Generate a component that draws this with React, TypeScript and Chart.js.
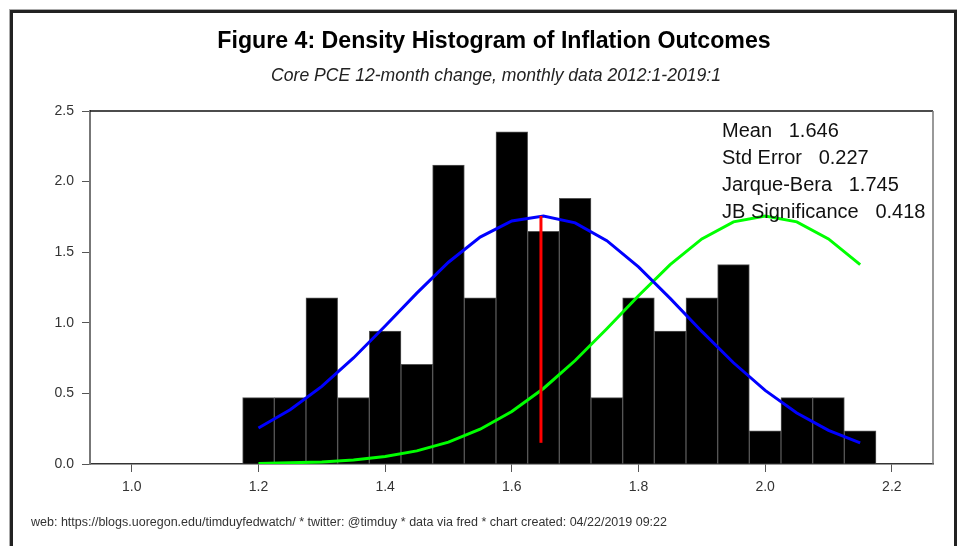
import React, { useEffect, useRef } from "react";
import { Chart, registerables } from "chart.js";

Chart.register(...registerables);

// Histogram bins (centres, width 0.05) and density heights
const BIN_CENTERS = [1.2, 1.25, 1.3, 1.35, 1.4, 1.45, 1.5, 1.55, 1.6, 1.65, 1.7, 1.75, 1.8, 1.85, 1.9, 1.95, 2.0, 2.05, 2.1, 2.15];
const DENSITY = [0.4706, 0.4706, 1.1765, 0.4706, 0.9412, 0.7059, 2.1176, 1.1765, 2.3529, 1.6471, 1.8824, 0.4706, 1.1765, 0.9412, 1.1765, 1.4118, 0.2353, 0.4706, 0.4706, 0.2353];

// Fitted normal (blue) and shifted normal (green), read at bin centres
const NORMAL_FIT = [0.255, 0.384, 0.55, 0.751, 0.977, 1.21, 1.429, 1.607, 1.721, 1.757, 1.708, 1.582, 1.396, 1.173, 0.939, 0.717, 0.521, 0.361, 0.238, 0.149];
const TARGET_FIT = [0.004, 0.008, 0.015, 0.029, 0.053, 0.093, 0.155, 0.246, 0.372, 0.535, 0.733, 0.958, 1.192, 1.412, 1.594, 1.715, 1.757, 1.715, 1.594, 1.412];

// Mean marker
const MEAN_LINE_X = [1.646, 1.646];
const MEAN_LINE_Y = [0.15, 1.757];

const X_TICKS = [1.0, 1.2, 1.4, 1.6, 1.8, 2.0, 2.2];
const Y_TICKS = [0, 0.5, 1.0, 1.5, 2.0, 2.5];

const STATS_LABELS = ["Mean", "Std Error", "Jarque-Bera", "JB Significance"];
const STATS_VALUES = ["1.646", "0.227", "1.745", "0.418"];

const TITLE = "Figure 4: Density Histogram of Inflation Outcomes";
const SUBTITLE = "Core PCE 12-month change, monthly data 2012:1-2019:1";
const FOOTER = "web: https://blogs.uoregon.edu/timduyfedwatch/ * twitter: @timduy * data via fred * chart created: 04/22/2019 09:22";

const W = 959;
const H = 546;
const FONT = '"Liberation Sans", Arial, sans-serif';

const boxPlugin = {
  id: "boxLines",
  afterDatasetsDraw(chart: any) {
    const { ctx, chartArea } = chart;
    ctx.save();
    ctx.lineWidth = 1.5;
    ctx.strokeStyle = "#111";
    ctx.beginPath();
    ctx.moveTo(chartArea.left, chartArea.top);
    ctx.lineTo(chartArea.right, chartArea.top);
    ctx.stroke();
    ctx.strokeStyle = "#777";
    ctx.beginPath();
    ctx.moveTo(chartArea.right, chartArea.top);
    ctx.lineTo(chartArea.right, chartArea.bottom);
    ctx.stroke();
    ctx.restore();
  },
};

export default function App() {
  const ref = useRef<HTMLCanvasElement | null>(null);

  useEffect(() => {
    if (!ref.current) return;
    const chart = new Chart(ref.current, {
      type: "bar",
      data: {
        datasets: [
          {
            type: "line",
            data: MEAN_LINE_X.map((x, i) => ({ x, y: MEAN_LINE_Y[i] })),
            borderColor: "#ff0000",
            borderWidth: 3,
            pointRadius: 0,
            tension: 0,
            order: 0,
          } as any,
          {
            type: "line",
            data: BIN_CENTERS.map((x, i) => ({ x, y: NORMAL_FIT[i] })),
            borderColor: "#0000ff",
            borderWidth: 3,
            pointRadius: 0,
            tension: 0,
            order: 1,
          },
          {
            type: "line",
            data: BIN_CENTERS.map((x, i) => ({ x, y: TARGET_FIT[i] })),
            borderColor: "#00ff00",
            borderWidth: 3,
            pointRadius: 0,
            tension: 0,
            order: 2,
          },
          {
            type: "bar",
            data: BIN_CENTERS.map((x, i) => ({ x, y: DENSITY[i] })),
            backgroundColor: "#000000",
            borderColor: "#555555",
            borderWidth: 1,
            barPercentage: 1,
            categoryPercentage: 1,
            order: 3,
          },
        ],
      },
      options: {
        animation: false,
        responsive: false,
        maintainAspectRatio: false,
        layout: { padding: { left: 0, right: W - 933, top: 111, bottom: 0 } },
        plugins: {
          legend: { display: false },
          tooltip: { enabled: false },
          title: { display: false },
        },
        scales: {
          x: {
            type: "linear",
            min: 0.934,
            max: 2.265,
            offset: false,
            afterFit: (s: any) => {
              s.height = H - 464;
            },
            afterBuildTicks: (s: any) => {
              s.ticks = X_TICKS.map((v) => ({ value: v }));
            },
            grid: { offset: false, drawOnChartArea: false, drawTicks: true, tickLength: 8, color: "#555", lineWidth: 1 },
            border: { display: true, color: "#333", width: 1.5 },
            ticks: {
              autoSkip: false,
              maxRotation: 0,
              padding: 7,
              color: "#333",
              font: { family: FONT, size: 14 },
              callback: (v: any) => Number(v).toFixed(1),
            },
          },
          y: {
            type: "linear",
            min: 0,
            max: 2.5,
            afterFit: (s: any) => {
              s.width = 90;
            },
            afterBuildTicks: (s: any) => {
              s.ticks = Y_TICKS.map((v) => ({ value: v }));
            },
            grid: { drawOnChartArea: false, drawTicks: true, tickLength: 8, color: "#555", lineWidth: 1 },
            border: { display: true, color: "#777", width: 2 },
            ticks: {
              padding: 8,
              color: "#333",
              font: { family: FONT, size: 14 },
              callback: (v: any) => Number(v).toFixed(1),
            },
          },
        },
      },
      plugins: [boxPlugin],
    } as any);
    return () => chart.destroy();
  }, []);

  return (
    <div style={{ position: "absolute", left: 0, top: 0, width: W, height: H, overflow: "hidden", background: "#fff", fontFamily: FONT }}>
      <div style={{ position: "absolute", left: 9, top: 9, width: 948, height: 600, border: "1px solid #aaa", boxSizing: "border-box" }} />
      <div style={{ position: "absolute", left: 10, top: 10, width: 947, height: 600, borderLeft: "3px solid #222", borderTop: "3px solid #222", borderRight: "3px solid #222", boxSizing: "border-box" }} />
      <canvas ref={ref} width={W} height={H} style={{ position: "absolute", left: 0, top: 0, width: W, height: H }} />
      <div style={{ position: "absolute", left: 494, top: 28, transform: "translateX(-50%) scaleX(0.965)", whiteSpace: "nowrap", fontWeight: "bold", fontSize: 24, lineHeight: "24px", color: "#000" }}>{TITLE}</div>
      <div style={{ position: "absolute", left: 496, top: 67, transform: "translateX(-50%)", whiteSpace: "nowrap", fontStyle: "italic", fontSize: 17.6, lineHeight: "17px", color: "#222" }}>{SUBTITLE}</div>
      <div style={{ position: "absolute", left: 722, top: 117, fontSize: 20, lineHeight: "27px", color: "#111" }}>
        {STATS_LABELS.map((l, i) => (
          <div key={l} style={{ whiteSpace: "pre" }}>{l + "   " + STATS_VALUES[i]}</div>
        ))}
      </div>
      <div style={{ position: "absolute", left: 31, top: 516, whiteSpace: "nowrap", fontSize: 12.5, lineHeight: "12px", color: "#333" }}>{FOOTER}</div>
    </div>
  );
}
